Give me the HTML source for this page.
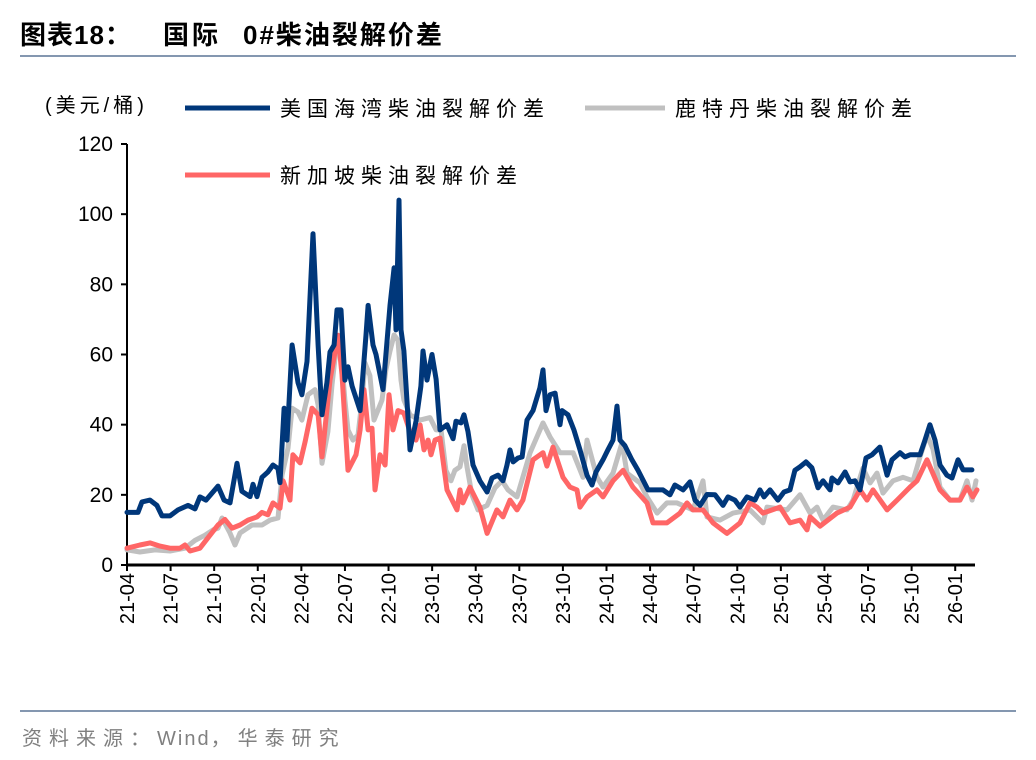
<!DOCTYPE html>
<html><head><meta charset="utf-8">
<style>
body{margin:0;background:#fff;}
#wrap{position:relative;width:1036px;height:760px;overflow:hidden;font-family:"Liberation Sans","Noto Sans CJK SC",sans-serif;}
</style></head>
<body>
<div id="wrap">
<svg id="svg" width="1036" height="760" xmlns="http://www.w3.org/2000/svg">
<g font-size="26" font-weight="bold" fill="#000" font-family="Liberation Sans,Noto Sans CJK SC,sans-serif">
<text x="20" y="44" letter-spacing="1">图表18：</text>
<text x="163" y="44" letter-spacing="3">国际</text>
<text x="243" y="44" letter-spacing="2">0#柴油裂解价差</text>
</g>
<line x1="20" y1="56" x2="1016" y2="56" stroke="#8497b0" stroke-width="2"/>
<line x1="20" y1="711" x2="1016" y2="711" stroke="#8497b0" stroke-width="2"/>
<text x="22" y="745" font-size="20" fill="#808080" font-family="Liberation Sans,Noto Sans CJK SC,sans-serif"><tspan letter-spacing="7">资料来源：</tspan><tspan letter-spacing="2">Wind</tspan><tspan letter-spacing="7">，华泰研究</tspan></text>
<text x="45" y="112" font-size="20" letter-spacing="4" fill="#000" font-family="Liberation Sans,Noto Sans CJK SC,sans-serif">(美元/桶)</text>
<g>
<g><line x1="185" y1="108" x2="270" y2="108" stroke="#00377a" stroke-width="5"/><text x="280" y="116" font-size="21" letter-spacing="6" font-family="Liberation Sans,Noto Sans CJK SC,sans-serif">美国海湾柴油裂解价差</text></g>
<g><line x1="585" y1="108" x2="665" y2="108" stroke="#c0c0c0" stroke-width="5"/><text x="675" y="116" font-size="21" letter-spacing="6" font-family="Liberation Sans,Noto Sans CJK SC,sans-serif">鹿特丹柴油裂解价差</text></g>
<g><line x1="185" y1="175" x2="270" y2="175" stroke="#ff6666" stroke-width="5"/><text x="280" y="183" font-size="21" letter-spacing="6" font-family="Liberation Sans,Noto Sans CJK SC,sans-serif">新加坡柴油裂解价差</text></g>
</g>
<g id="axes"></g>
<g id="series"></g>
</svg>
</div>
<script>
// month offsets since 2021-04 and values (USD/bbl)
const xTickLabels=["21-04","21-07","21-10","22-01","22-04","22-07","22-10","23-01","23-04","23-07","23-10","24-01","24-04","24-07","24-10","25-01","25-04","25-07","25-10","26-01"];
const yTicks=[0,20,40,60,80,100,120];
const usDates=[0,.76,1.03,1.58,2.06,2.41,2.96,3.51,4.2,4.68,5.02,5.44,5.85,6.26,6.68,7.09,7.57,7.91,8.47,8.67,8.95,9.29,9.7,10.05,10.39,10.53,10.81,11.01,11.36,11.77,12.04,12.39,12.8,13.15,13.42,13.76,13.97,14.25,14.45,14.73,15,15.21,15.49,16.04,16.45,16.59,16.93,17.14,17.62,18.1,18.38,18.51,18.72,18.86,19.06,19.48,19.89,20.23,20.37,20.65,20.99,21.27,21.54,22.02,22.44,22.64,22.99,23.19,23.47,23.81,24.29,24.78,25.12,25.53,25.88,26.15,26.36,26.57,26.91,27.19,27.53,27.94,28.42,28.63,28.84,29.11,29.46,29.8,29.94,30.35,30.76,31.18,31.66,32,32.28,32.76,33.1,33.45,33.72,33.93,34.27,34.75,35.17,35.86,36.34,36.89,37.37,37.71,38.27,38.75,39.09,39.44,39.92,40.47,41.02,41.36,41.84,42.19,42.67,43.22,43.56,43.84,44.25,44.8,45.22,45.63,45.97,46.32,46.73,47.14,47.56,47.9,48.38,48.52,48.93,49.42,49.76,50.1,50.45,50.86,51.27,51.82,52.31,52.65,53.2,53.54,53.89,54.58,54.92,55.26,55.61,55.95,56.43,56.78,57.19,57.54,58.15];
const usValues=[15,15,18,18.5,17,14,14,15.7,17,16,19.4,18.5,20.5,22.5,18.5,17.7,29,21,19.5,23,19.5,25,26.5,28.5,27.5,23.5,44.7,35.6,62.7,52,48.5,58,94.4,62.7,42.8,52,60.7,62.7,72.7,72.7,52.7,56.5,51,44,65.6,74,62.7,60,50,74,84.7,67,104,67,61,32.8,41,51,61,52.7,60,53,38.5,40,36,41,40.5,42.8,38,28.5,24,20.8,24.8,25.6,24,28.5,32.8,29.4,30.5,30.8,41.3,44,50.5,55.6,44,48.5,49,40,44,42.8,38.5,32.8,25.6,22.8,26.5,30,32.8,35.6,45.3,35.6,34,30,27,21.4,21.4,21.4,20,22.8,21.4,23.7,18.5,17,20.1,20,17,19.4,18.5,16.5,19.4,18.5,21.4,19.4,21.4,18.5,20.8,21.4,27,28,29.4,27.7,22,24,21.4,24.8,23.4,26.5,23.7,24,21.4,30.5,31.4,33.6,25.6,30,32,30.8,31.4,31.4,35.6,40,35.6,28.5,25.6,24.8,30,27.1,27.1,28.5,38.5];
const rtDates=[0,.89,1.93,2.96,3.99,4.68,5.37,5.92,6.26,6.54,7.09,7.43,7.78,8.6,9.29,9.84,10.39,10.67,11.08,11.36,11.77,12.04,12.46,12.94,13.15,13.42,13.83,14.11,14.45,14.66,15,15.21,15.55,15.9,16.17,16.38,16.72,17,17.55,17.82,18.1,18.38,18.65,18.86,19.06,19.48,20.17,20.85,21.27,21.61,21.95,22.3,22.57,22.92,23.19,23.4,23.74,24.16,24.78,25.33,25.81,26.22,26.84,27.74,28.63,29.11,29.8,30.7,31.38,31.66,32.35,32.76,33.45,34.07,34.41,35.3,35.79,36.48,37.16,37.85,38.95,39.64,39.92,40.81,41.71,42.88,43.77,44.05,45.42,46.32,47.01,47.49,47.9,48.59,49.55,49.97,50.65,51.14,51.62,52.03,52.72,53.41,54.1,54.58,55.06,55.47,55.95,56.64,57.33,57.81,58.16,58.43];
const rtValues=[4.3,3.7,4.3,4,4.8,7,8.5,10,10.5,13.4,9.1,5.7,9.1,11.4,11.4,12.8,13.4,25.6,33.3,44.7,43.6,41.3,48.5,50,45.6,29,38,51.3,64,64,47,38.5,35.6,37,47,57.6,54,41.3,47,55.6,61,65.6,64,52.7,47,42.8,41.3,42,38.5,38.5,27,24,27,28,34,28,20,15.7,17,22,24,21.4,19.4,32,40.5,36.5,32,32,25,35.6,25,22.2,26.2,34.8,26.2,23.4,19.4,14.8,17.7,17.7,15.7,24,13.7,12.8,14.8,15.7,12,16.5,15.7,20,14.8,16.5,12.8,16.5,15.7,18.5,27.6,23.4,26.2,20.5,24,25,24,30.8,37,33,22.2,18.5,18.5,24,18.5,24];
const sgDates=[0,.89,1.58,2.27,2.96,3.65,3.99,4.34,5.02,5.71,6.26,6.74,7.23,7.78,8.33,8.95,9.29,9.7,10.05,10.53,10.74,11.22,11.42,11.91,12.25,12.73,13.15,13.42,13.97,14.52,14.8,15.21,15.76,16.04,16.31,16.59,16.86,17.07,17.41,17.76,18.03,18.31,18.65,19.06,19.48,19.89,20.17,20.44,20.72,20.92,21.2,21.54,22.02,22.71,22.92,23.12,23.6,24.29,24.78,25.46,25.88,26.36,26.84,27.25,27.94,28.63,28.9,29.32,30.01,30.49,30.97,31.18,31.66,32.35,32.76,33.45,34.14,34.82,35.79,36.2,37.16,38.06,38.54,38.95,39.64,40.33,41.29,42.19,42.88,43.36,43.77,44.94,45.63,46.32,46.8,47.01,47.7,48.86,49.76,50.45,50.93,51.34,52.31,53,53.89,54.37,55.06,55.95,56.64,57.33,57.81,58.22,58.5];
const sgValues=[4.8,5.7,6.3,5.4,4.8,4.8,5.7,4,4.8,8.5,11.4,13,10.5,11.4,12.8,13.7,15,14.3,17.7,16.2,24,18.5,31.4,29.1,35,44.7,42.8,30.8,52.7,65.5,54.2,27,31.4,38.5,50,38.5,39,21.4,31.4,28.5,48.5,38.5,44,43.3,38,35.6,39.9,32.8,35.6,31.4,35.6,36.2,21.4,15.7,21.4,17.7,22.2,16.5,9,15.7,13.7,18.5,15.7,18.5,30,32,28.2,33.6,25,22.2,21.4,16.5,19.4,21.4,19.4,24,27,22.2,17.7,12,12,14.8,17.7,15.7,15.7,12,9,12,17.7,16.5,14.8,16.5,12,12.8,10,13.7,11.1,14.8,16.5,21.4,18.5,21.4,15.7,18.5,22.2,24,30,21.4,18.5,18.5,22.2,19.4,21.4];

const NS="http://www.w3.org/2000/svg";
const X0=127,X1=975,Y0=565,Y1=144,MONTH=14.53,YMAX=120;
function xs(t){return X0+t*MONTH;}
function ys(v){return Y0-(v/YMAX)*(Y0-Y1);}
const axes=document.getElementById('axes');
function mk(tag,attrs,parent){const e=document.createElementNS(NS,tag);for(const k in attrs)e.setAttribute(k,attrs[k]);parent.appendChild(e);return e;}
const yAxis=mk('line',{x1:X0,y1:Y1,x2:X0,y2:Y0,stroke:'#000','stroke-width':2},axes);


const xAxis=mk('line',{x1:X0,y1:Y0,x2:X1,y2:Y0,stroke:'#000','stroke-width':3},axes);


yTicks.forEach(v=>{
  const y=ys(v);
  const tk=mk('line',{x1:X0-6,y1:y,x2:X0,y2:y,stroke:'#000','stroke-width':2},axes);
  
  
  const t=mk('text',{x:X0-14,y:y+7,'text-anchor':'end','font-size':21,'font-family':'Liberation Sans,sans-serif'},axes);
  t.textContent=v;
  
  
});
xTickLabels.forEach((lab,i)=>{
  const x=xs(i*3);
  const tk=mk('line',{x1:x,y1:Y0,x2:x,y2:Y0+6,stroke:'#000','stroke-width':2},axes);
  
  
  const t=mk('text',{x:0,y:0,'text-anchor':'end','font-size':20,'font-family':'Liberation Sans,sans-serif',transform:`translate(${x+7},${Y0+8}) rotate(-90)`},axes);
  t.textContent=lab;
  
  
});
const series=document.getElementById('series');
function drawLine(dates,vals,color,name){
  const d=dates.map((t,i)=>(i?'L':'M')+xs(t).toFixed(1)+','+ys(vals[i]).toFixed(1)).join(' ');
  const p=mk('path',{d:d,fill:'none',stroke:color,'stroke-width':5,'stroke-linejoin':'round','stroke-linecap':'round'},series);
  
  
}
drawLine(rtDates,rtValues,'#c0c0c0','rotterdam-line');
drawLine(sgDates,sgValues,'#ff6666','singapore-line');
drawLine(usDates,usValues,'#00377a','us-gulf-line');
</script>
</body></html>
